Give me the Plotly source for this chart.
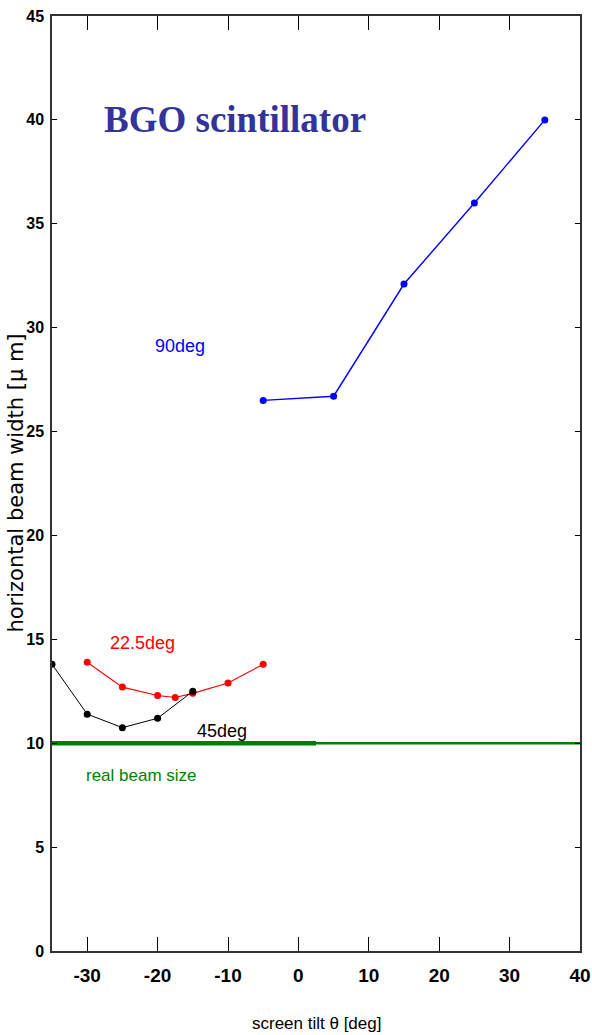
import plotly.graph_objects as go

# Measured beam widths [um] versus screen tilt [deg]
tilt_90 = [-5, 5, 15, 25, 35]
width_90 = [26.5, 26.7, 32.1, 36.0, 40.0]

tilt_225 = [-30, -25, -20, -17.5, -15, -10, -5]
width_225 = [13.9, 12.7, 12.3, 12.2, 12.4, 12.9, 13.8]

tilt_45 = [-35, -30, -25, -20, -15]
width_45 = [13.8, 11.4, 10.75, 11.2, 12.5]

# Reference: the real beam size
real_tilt = [-35, 40]
real_tilt_thick = [-35, 2.5]
real_width = [10, 10]

x_ticks = [-30, -20, -10, 0, 10, 20, 30, 40]
x_tick_text = ["-30", "-20", "-10", "0", "10", "20", "30", "40"]
y_ticks = [0, 5, 10, 15, 20, 25, 30, 35, 40, 45]
y_tick_text = ["0", "5", "10", "15", "20", "25", "30", "35", "40", "45"]

SANS = "Liberation Sans, Arial, Helvetica, sans-serif"

fig = go.Figure()

fig.add_trace(go.Scatter(x=real_tilt, y=real_width, mode="lines",
                         line=dict(color="#008000", width=2.5), showlegend=False))
fig.add_trace(go.Scatter(x=real_tilt_thick, y=real_width, mode="lines",
                         line=dict(color="#008000", width=4.5), showlegend=False))

fig.add_trace(go.Scatter(x=tilt_90, y=width_90, mode="lines+markers",
                         line=dict(color="#0000FF", width=1.4),
                         marker=dict(symbol="circle", size=7, color="#0000FF"),
                         showlegend=False))
fig.add_trace(go.Scatter(x=tilt_225, y=width_225, mode="lines+markers",
                         line=dict(color="#FF0000", width=1.1),
                         marker=dict(symbol="circle", size=7, color="#FF0000"),
                         showlegend=False))
fig.add_trace(go.Scatter(x=tilt_45, y=width_45, mode="lines+markers",
                         line=dict(color="#000000", width=1.0),
                         marker=dict(symbol="circle", size=7, color="#000000"),
                         showlegend=False))

labels = [
    dict(x=-9.0, y=40.0, text="BGO scintillator", color="#333399",
         family="Liberation Serif, Times New Roman, serif", size=37, bold=True),
    dict(x=-16.8, y=29.1, text="90deg", color="#0000FF", family=SANS, size=18, bold=False),
    dict(x=-22.2, y=14.8, text="22.5deg", color="#FF0000", family=SANS, size=18, bold=False),
    dict(x=-10.9, y=10.6, text="45deg", color="#000000", family=SANS, size=18, bold=False),
    dict(x=-22.3, y=8.45, text="real beam size", color="#008000", family=SANS, size=17, bold=False),
]
for lb in labels:
    fig.add_annotation(x=lb["x"], y=lb["y"], xref="x", yref="y", text=lb["text"],
                       showarrow=False, xanchor="center", yanchor="middle",
                       font=dict(family=lb["family"], size=lb["size"], color=lb["color"],
                                 weight="bold" if lb["bold"] else "normal"))

# Axis titles
fig.add_annotation(x=0.5, y=-0.078, xref="paper", yref="paper",
                   text="screen tilt \u03b8 [deg]", showarrow=False,
                   xanchor="center", yanchor="middle",
                   font=dict(family=SANS, size=17, color="#000"))
fig.add_annotation(x=-0.07, y=0.5, xref="paper", yref="paper",
                   text="horizontal beam width [\u03bc m]", showarrow=False,
                   textangle=-90, xanchor="center", yanchor="middle",
                   font=dict(family="DejaVu Sans, Arial, sans-serif", size=21, color="#000"))

fig.update_layout(
    width=592, height=1035,
    margin=dict(l=52, r=12, t=16, b=84),
    paper_bgcolor="white", plot_bgcolor="white",
    xaxis=dict(range=[-35, 40], tickvals=x_ticks, ticktext=x_tick_text,
               ticks="inside", ticklen=14, automargin=False,
               tickcolor="#000", tickwidth=1, showgrid=False, zeroline=False,
               showline=True, linecolor="#333", linewidth=1.5, mirror="ticks",
               tickfont=dict(family=SANS, size=19, color="#000", weight="bold"),
               ticklabelstandoff=6),
    yaxis=dict(range=[0, 45], tickvals=y_ticks, ticktext=y_tick_text,
               ticks="inside", ticklen=5, automargin=False,
               tickcolor="#000", tickwidth=1, showgrid=False, zeroline=False,
               showline=True, linecolor="#333", linewidth=1.5, mirror="ticks",
               tickfont=dict(family=SANS, size=16, color="#000", weight="bold"),
               ticklabelstandoff=3),
)

fig.write_html("out.html")
